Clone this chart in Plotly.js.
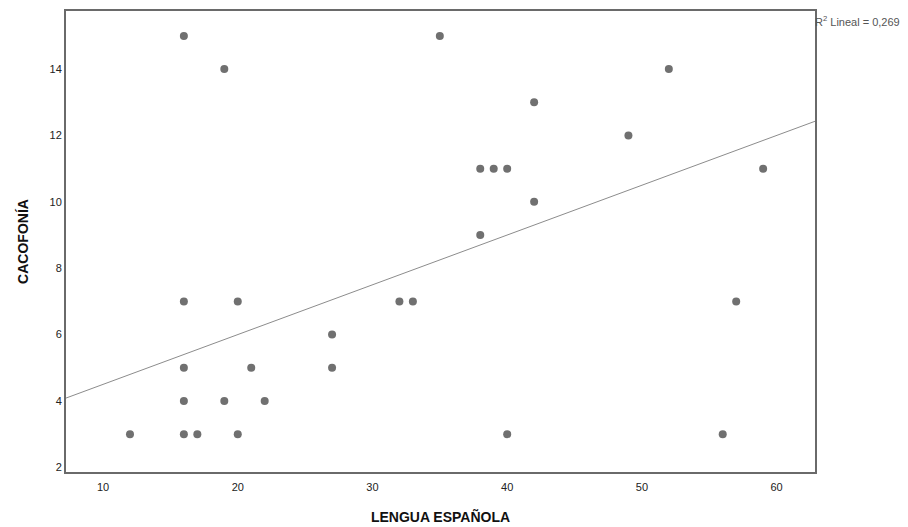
<!DOCTYPE html>
<html><head><meta charset="utf-8">
<script src="https://cdn.plot.ly/plotly-3.0.1.min.js"></script>
<style>body{margin:0;background:#fff}#chart{width:908px;height:527px}</style>
</head><body><div id="chart"></div>
<script>
const lenguaEspanola = [12,16,16,16,16,16,17,19,19,20,20,21,22,27,27,32,33,35,38,38,39,40,40,42,42,49,52,56,57,59];
const cacofonia      = [3, 15, 7, 5, 4, 3, 3, 14, 4, 7, 3, 5, 4, 6, 5, 7, 7, 15,11, 9, 11,11, 3, 13,10,12,14, 3, 7, 11];
const xTicks = [10,20,30,40,50,60];
const yTicks = [2,4,6,8,10,12,14];
// fit line as shown in the reference (SPSS linear fit)
const fitIntercept = 3.0;
const fitSlope = 0.15;
const r2Label = 'R<sup>2</sup> Lineal = 0,269';

const xr=[7.25,62.85];
const fitX=xr, fitY=xr.map(x=>fitIntercept+fitSlope*x);

const traces=[
 {x:fitX,y:fitY,mode:'lines',line:{color:'#8c8c8c',width:1},hoverinfo:'skip',showlegend:false},
 {x:lenguaEspanola,y:cacofonia,mode:'markers',marker:{color:'#707070',size:8},showlegend:false}
];
const layout={
 width:908,height:527,paper_bgcolor:'#fff',plot_bgcolor:'#fff',
 margin:{l:66,r:93,t:11,b:55},
 font:{family:'Liberation Sans, Arial, sans-serif',size:11,color:'#222'},
 xaxis:{range:xr,tickvals:xTicks,showgrid:false,zeroline:false,showline:true,mirror:true,linecolor:'#6a6a6a',linewidth:2,ticks:'outside',ticklen:4,tickcolor:'rgba(0,0,0,0)',
   tickfont:{color:'#222',size:11},
   title:{text:'LENGUA ESPAÑOLA',font:{size:14,color:'#111',weight:'bold'},standoff:20}},
 yaxis:{range:[1.86,15.75],tickvals:yTicks,showgrid:false,zeroline:false,showline:true,mirror:true,linecolor:'#6a6a6a',linewidth:2,ticks:'',
   tickfont:{color:'#222',size:11},
   title:{text:'CACOFONÍA',font:{size:14,color:'#111',weight:'bold'},standoff:18}},
 annotations:[{xref:'paper',yref:'paper',x:1,y:1,xanchor:'left',yanchor:'top',xshift:-2,yshift:-1,text:r2Label,showarrow:false,font:{size:11,color:'#555'}}]
};
Plotly.newPlot('chart',traces,layout,{displayModeBar:false,staticPlot:true});
</script></body></html>
